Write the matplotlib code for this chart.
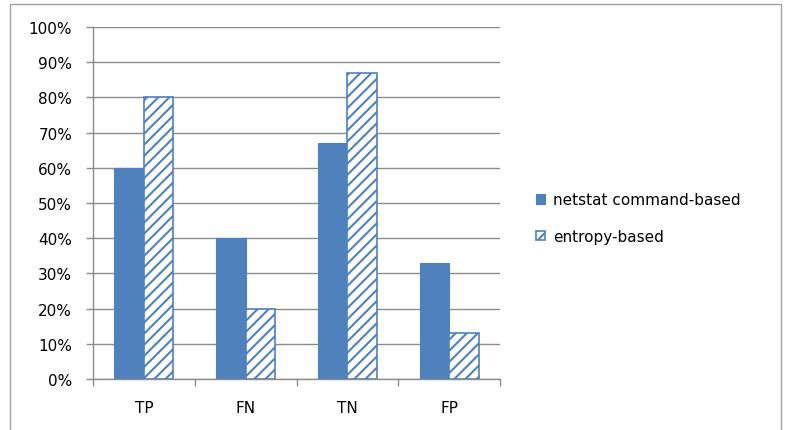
import matplotlib
matplotlib.use('Agg')
import matplotlib.pyplot as plt
import matplotlib.patches as mpatches
import numpy as np
from matplotlib.ticker import FixedLocator, NullFormatter

categories = ['TP', 'FN', 'TN', 'FP']
netstat_vals = [60, 40, 67, 33]
entropy_vals = [80, 20, 87, 13]
series_names = ['netstat command-based', 'entropy-based']

BLUE = '#4F81BD'
GRID = '#8C8C8C'

plt.rcParams['hatch.linewidth'] = 1.5
plt.rcParams['font.family'] = ['DejaVu Sans']

fig = plt.figure(figsize=(7.86, 4.31), dpi=100)

# outer chart border
fig.patches.append(mpatches.Rectangle(
    (10 / 786, -0.05), 771 / 786, 1.0 - 5 / 431 + 0.05,
    transform=fig.transFigure, fill=False, edgecolor='#A0A0A0', linewidth=1.0))

ax = fig.add_axes([93 / 786, 1 - 380 / 431, 407 / 786, 352 / 431])

x = np.arange(len(categories))
w = 0.29
ax.bar(x - w / 2, netstat_vals, w, color=BLUE, edgecolor=BLUE,
       linewidth=0.8, label=series_names[0], zorder=3)
ax.bar(x + w / 2, entropy_vals, w, color='white', edgecolor=BLUE,
       hatch='///', linewidth=1.2, label=series_names[1], zorder=3)

ax.set_xlim(-0.5, len(categories) - 0.5)
ax.set_ylim(0, 100)
ax.set_yticks(np.arange(0, 101, 10))
ax.set_yticklabels([f'{v}%' for v in range(0, 101, 10)], fontsize=11)
ax.yaxis.grid(True, color=GRID, linewidth=1.0, zorder=0)
ax.set_axisbelow(True)

ax.set_xticks(x)
ax.set_xticklabels(categories, fontsize=11)
ax.tick_params(axis='x', which='major', length=0, pad=15)
ax.xaxis.set_minor_locator(FixedLocator(np.arange(-0.5, len(categories), 1)))
ax.xaxis.set_minor_formatter(NullFormatter())
ax.tick_params(axis='x', which='minor', length=5, color=GRID, width=1.0)
ax.tick_params(axis='y', length=5, color=GRID, width=1.0, pad=10)

for s in ['top', 'right']:
    ax.spines[s].set_visible(False)
for s in ['left', 'bottom']:
    ax.spines[s].set_color(GRID)
    ax.spines[s].set_linewidth(1.0)

leg = ax.legend(loc='center left', bbox_to_anchor=(1.055, 0.457), frameon=False,
                fontsize=11, handlelength=0.6, handleheight=0.6,
                handletextpad=0.5, labelspacing=1.4)

fig.savefig('out.png', dpi=100)
